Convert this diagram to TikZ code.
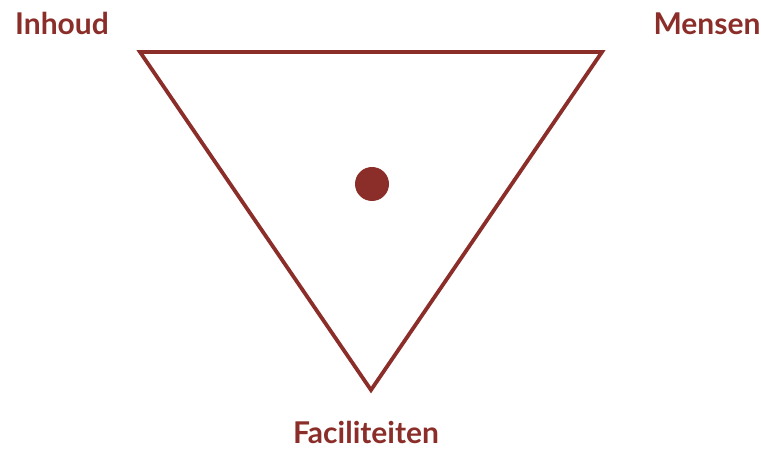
\documentclass[tikz,border=0pt]{standalone}
\usepackage{fontspec}
\setmainfont{Lato}
\usetikzlibrary{positioning}
\definecolor{DriRood}{HTML}{8B2E2A}

\begin{document}
\begin{tikzpicture}[x=1pt,y=1pt,
  lbl/.style={text=DriRood,font=\bfseries\fontsize{30}{36}\selectfont,inner sep=0pt,anchor=base}]
  \useasboundingbox (0,0) rectangle (761,450);
  \coordinate (inh) at (140,398);
  \coordinate (men) at (602,398);
  \coordinate (fac) at (371,60);
  \draw[DriRood,line width=3.8pt,line join=miter] (inh) -- (men) -- (fac) -- cycle;
  \node[circle,fill=DriRood,minimum size=34pt,inner sep=0pt] (mid) at (372,266) {};
  \node[lbl] (tinh) at (62,415) {Inhoud};
  \node[lbl] (tmen) at (707,415) {Mensen};
  \node[lbl] (tfac) at (366,6) {Faciliteiten};
\end{tikzpicture}
\end{document}
